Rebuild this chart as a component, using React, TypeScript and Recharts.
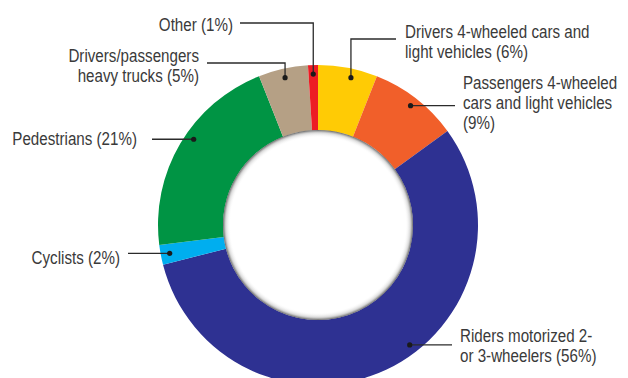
import React from "react";
import { PieChart, Pie, Cell } from "recharts";

const categories = [
  "Drivers 4-wheeled cars and light vehicles",
  "Passengers 4-wheeled cars and light vehicles",
  "Riders motorized 2- or 3-wheelers",
  "Cyclists",
  "Pedestrians",
  "Drivers/passengers heavy trucks",
  "Other",
];
const shares = [6, 9, 56, 2, 21, 5, 1];
const labelLines = [
  ["Drivers 4-wheeled cars and", "light vehicles (6%)"],
  ["Passengers 4-wheeled", "cars and light vehicles", "(9%)"],
  ["Riders motorized 2-", "or 3-wheelers (56%)"],
  ["Cyclists (2%)"],
  ["Pedestrians (21%)"],
  ["Drivers/passengers", "heavy trucks (5%)"],
  ["Other (1%)"],
];

const colors = ["#FFCB05", "#F15F2A", "#2E3192", "#00AEEF", "#009444", "#B5A085", "#ED1C24"];

// label layout (positions/styles kept apart from the data)
type Layout = {
  anchor: "start" | "end";
  tx: number;
  ty: number;
  lineEnd: number;
  elbowY?: number;
  angleOffset?: number;
};
const layouts: Layout[] = [
  { anchor: "start", tx: 405, ty: 38, lineEnd: 396, elbowY: 39, angleOffset: -1.8 },
  { anchor: "start", tx: 463, ty: 89.5, lineEnd: 455 },
  { anchor: "start", tx: 460, ty: 342.5, lineEnd: 452, angleOffset: 12.2 },
  { anchor: "end", tx: 120, ty: 264, lineEnd: 128 },
  { anchor: "end", tx: 137, ty: 145.5, lineEnd: 152, angleOffset: -4 },
  { anchor: "end", tx: 199, ty: 62, lineEnd: 207, elbowY: 63 },
  { anchor: "end", tx: 233, ty: 31.5, lineEnd: 240, elbowY: 23 },
];

const data = categories.map((name, i) => ({ name, value: shares[i] }));
const holeRing = [{ name: "hole", value: 1 }];

const FONT = "'Liberation Sans', Arial, sans-serif";
const NARROW = 0.82;
const TEXT = "#3a3a3a";
const RAD = Math.PI / 180;

const renderLabel = (props: any) => {
  const { cx, cy, midAngle, index } = props;
  const lay = layouts[index];
  const a = (midAngle + (lay.angleOffset || 0)) * RAD;
  const r = 151;
  const dx = cx + r * Math.cos(a);
  const dy = cy - r * Math.sin(a);
  let path: string;
  if (lay.elbowY !== undefined) {
    path = `M${dx},${dy} L${dx},${lay.elbowY} L${lay.lineEnd},${lay.elbowY}`;
  } else {
    path = `M${dx},${dy} L${lay.lineEnd},${dy}`;
  }
  const lines = labelLines[index];
  return (
    <g key={`lbl-${index}`}>
      <path d={path} stroke="#2b2b2b" strokeWidth={1.3} fill="none" />
      <circle cx={dx} cy={dy} r={2.6} fill="#1a1a1a" />
      <g transform={`translate(${lay.tx},0) scale(${NARROW},1) translate(${-lay.tx},0)`}>
        <text
          x={lay.tx}
          y={lay.ty}
          textAnchor={lay.anchor}
          fill={TEXT}
          fontFamily={FONT}
          fontSize={18.5}
        >
          {lines.map((ln, j) => (
            <tspan key={j} x={lay.tx} dy={j === 0 ? 0 : 20}>
              {ln}
            </tspan>
          ))}
        </text>
      </g>
    </g>
  );
};

export default function App() {
  return (
    <div style={{ position: "absolute", left: 0, top: 0, width: 628, height: 378, background: "#fff" }}>
      <PieChart width={628} height={378} margin={{ top: 0, right: 0, bottom: 0, left: 0 }}>
        <defs>
          <radialGradient id="holeShadow" cx="50%" cy="50%" r="50%">
            <stop offset="0.92" stopColor="#ffffff" stopOpacity={0} />
            <stop offset="0.97" stopColor="#bdbdbd" stopOpacity={0.55} />
            <stop offset="1" stopColor="#555555" stopOpacity={0.9} />
          </radialGradient>
        </defs>
        <Pie
          data={data}
          dataKey="value"
          nameKey="name"
          cx={318}
          cy={225}
          innerRadius={95}
          outerRadius={160}
          startAngle={90}
          endAngle={-270}
          stroke="none"
          isAnimationActive={false}
          label={renderLabel}
          labelLine={false}
        >
          {data.map((d, i) => (
            <Cell key={d.name} fill={colors[i]} stroke="none" />
          ))}
        </Pie>
        <Pie
          data={holeRing}
          dataKey="value"
          cx={318}
          cy={225}
          innerRadius={0}
          outerRadius={95}
          startAngle={90}
          endAngle={-270}
          stroke="none"
          fill="url(#holeShadow)"
          isAnimationActive={false}
          label={false}
          labelLine={false}
        />
      </PieChart>
    </div>
  );
}
